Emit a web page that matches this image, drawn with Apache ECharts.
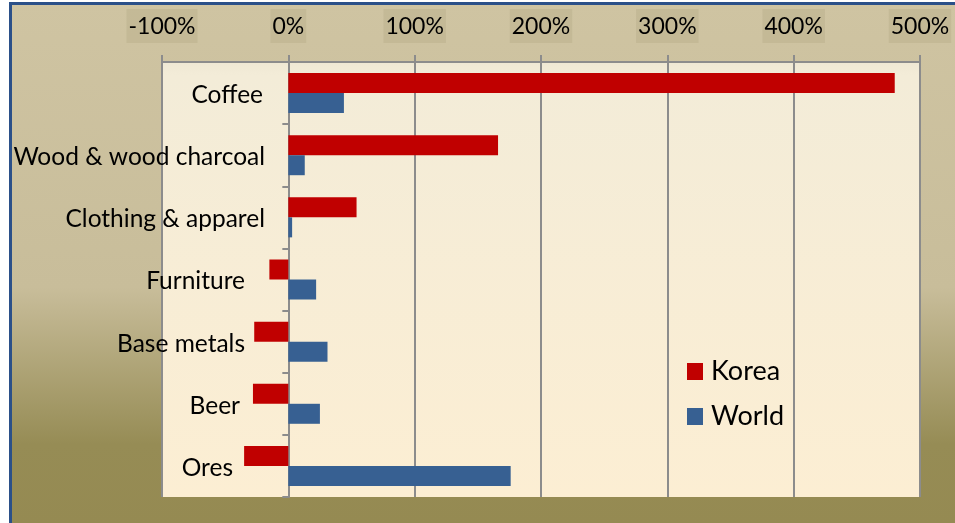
<!DOCTYPE html>
<html><head><meta charset="utf-8">
<script src="https://cdn.jsdelivr.net/npm/echarts@6/dist/echarts.min.js"></script>
<style>html,body{margin:0;padding:0;background:#fff}#c{width:955px;height:523px}</style>
</head><body><div id="c"></div>
<script>
const categories = ['Coffee','Wood & wood charcoal','Clothing & apparel','Furniture','Base metals','Beer','Ores'];
const korea = [480, 166, 54, -15, -27, -28, -35];
const world = [44, 13, 3, 22, 31, 25, 176];
const seriesNames = ['Korea','World'];
const xTicks = {min:-100, max:500, interval:100};

const chart = echarts.init(document.getElementById('c'));
const FONT = 'Lato';
// label right-padding per category (style only): Excel nudges labels left of negative bars
const labelPads = [2, 0, 0, 20, 20, 25, 32];
const rich = {};
labelPads.forEach((p, i) => { rich['p' + i] = {fontFamily:FONT,fontSize:24.5,color:'#000',padding:[4,p,0,0]}; });
chart.setOption({
  animation:false,
  backgroundColor: new echarts.graphic.LinearGradient(0,0,0,1,[
    {offset:0,color:'#CFC4A2'},{offset:0.55,color:'#C8BD9A'},{offset:0.85,color:'#968C55'},{offset:1,color:'#958A52'}]),
  graphic:[
    {type:'rect',shape:{x:0,y:0,width:955,height:2},style:{fill:'#fff'},z:100},
    {type:'rect',shape:{x:0,y:0,width:9,height:523},style:{fill:'#fff'},z:100},
    {type:'rect',shape:{x:9,y:2,width:946,height:3},style:{fill:'#2B5089'},z:101},
    {type:'rect',shape:{x:9,y:2,width:3,height:521},style:{fill:'#2B5089'},z:101}
  ],
  grid:{left:162,right:35,top:62,bottom:26,show:true,borderWidth:0,containLabel:false,outerBoundsMode:'none',
    backgroundColor:new echarts.graphic.LinearGradient(0,0,0,1,[
      {offset:0,color:'#EFE8D4'},{offset:0.03,color:'#F3ECD8'},{offset:1,color:'#FCEED3'}])},
  legend:{orient:'vertical',left:687,top:358,padding:0,itemWidth:16,itemHeight:17,itemGap:18,
    icon:'rect',textStyle:{fontFamily:FONT,fontSize:27,color:'#000',padding:[0,0,0,3]},
    data:seriesNames},
  xAxis:{type:'value',position:'top',min:xTicks.min,max:xTicks.max,interval:xTicks.interval,
    axisLine:{show:true,lineStyle:{color:'#8C8C8C',width:2}},
    axisTick:{show:true,length:7,lineStyle:{color:'#8C8C8C',width:2}},
    splitLine:{show:true,lineStyle:{color:'#8C8C8C',width:2}},
    axisLabel:{formatter:'{value}%',fontFamily:FONT,fontSize:23,color:'#000',margin:19,
      backgroundColor:'rgba(110,100,60,0.10)',padding:[6,2,5,2]}},
  yAxis:{type:'category',inverse:true,data:categories,
    axisLine:{show:true,onZero:true,lineStyle:{color:'#8C8C8C',width:2}},
    axisTick:{show:true,length:6,lineStyle:{color:'#8C8C8C',width:2}},
    splitLine:{show:false},
    axisLabel:{fontFamily:FONT,fontSize:24.5,color:'#000',margin:-103,
      formatter:(v, i) => '{p' + i + '|' + v + '}', rich:rich}},
  series:[
    {name:seriesNames[0],type:'bar',data:korea,barWidth:20,barGap:'0%',itemStyle:{color:'#C00000'}},
    {name:seriesNames[1],type:'bar',data:world,barWidth:20,barGap:'0%',itemStyle:{color:'#376092'}}
  ]
});
</script></body></html>
